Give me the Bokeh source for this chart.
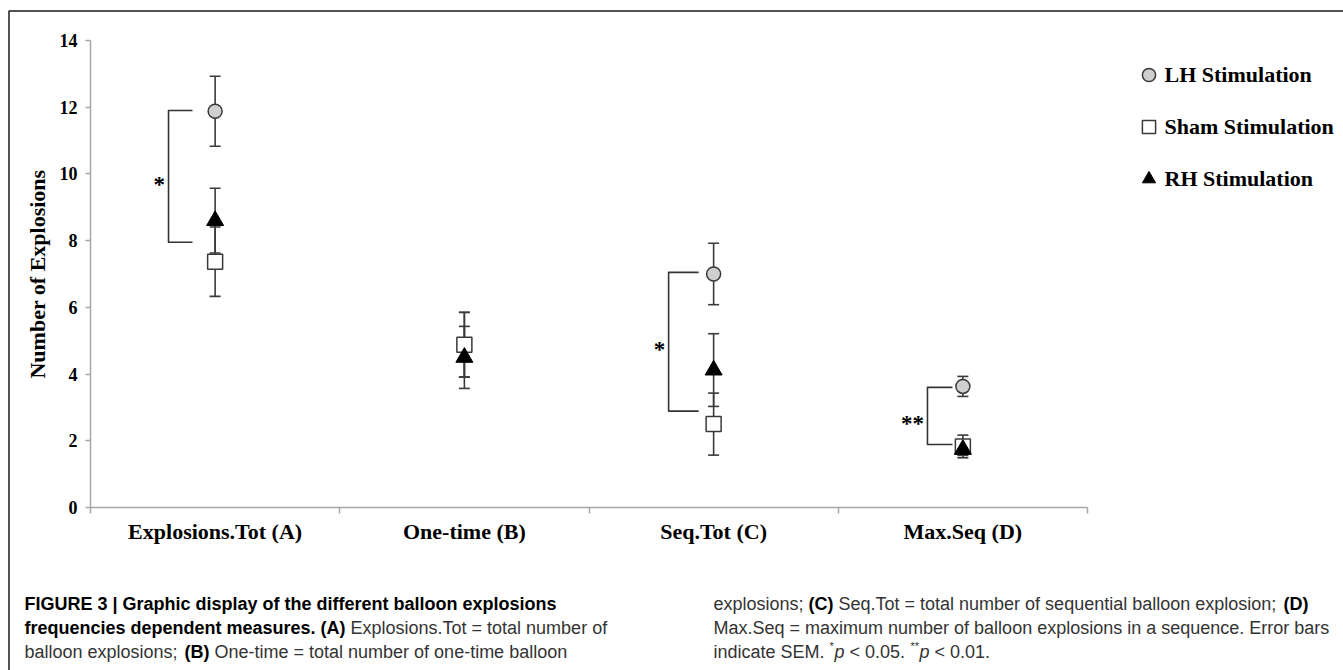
import math
from bokeh.plotting import figure
from bokeh.models import Range1d, FixedTicker, Label, Legend, LegendItem, BoxAnnotation
from bokeh.core.properties import value
from bokeh.embed import file_html
from bokeh.resources import INLINE

# ---------------- data ----------------
categories = ["Explosions.Tot (A)", "One-time (B)", "Seq.Tot (C)", "Max.Seq (D)"]
lh_mean = [11.88, 4.88, 7.00, 3.63]
lh_sem = [1.05, 0.97, 0.92, 0.30]
sham_mean = [7.37, 4.88, 2.50, 1.83]
sham_sem = [1.04, 0.97, 0.93, 0.34]
rh_mean = [8.60, 4.50, 4.12, 1.74]
rh_sem = [0.97, 0.93, 1.09, 0.18]
y_ticks = [0, 2, 4, 6, 8, 10, 12, 14]
series_labels = ["LH Stimulation", "Sham Stimulation", "RH Stimulation"]

bracket_cat = [0, 2, 3]
bracket_top = [11.90, 7.05, 3.60]
bracket_bottom = [7.95, 2.89, 1.89]
bracket_label = ["*", "*", "**"]

# ---------------- layout (page pixels) ----------------
W, H = 1343, 670
F_LEFT, F_RIGHT, F_TOP, F_BOTTOM = 90, 1087, 40, 507   # plot area of the chart
PX = (F_RIGHT - F_LEFT) / 4.0
PY = (F_BOTTOM - F_TOP) / 14.0


def X(px):
    return (px - F_LEFT) / PX - 0.5


def Y(py):
    return (F_BOTTOM - py) / PY


SERIF = "Liberation Serif"
SANS = "Liberation Sans"
EC = "#3a3a3a"
AXC = "#a6a6a6"

p = figure(width=W, height=H, output_backend="svg", toolbar_location=None,
           x_range=Range1d(X(0), X(W)), y_range=Range1d(Y(H), Y(0)),
           min_border=0)
p.title.visible = False
p.outline_line_color = None
p.xgrid.visible = False
p.ygrid.visible = False
p.background_fill_color = "white"
p.border_fill_color = "white"

# y axis (real bokeh axis, fixed at the left edge of the data area)
ya = p.yaxis[0]
ya.fixed_location = -0.5
ya.bounds = (0, 14)
ya.ticker = FixedTicker(ticks=y_ticks)
ya.axis_line_color = AXC
ya.axis_line_width = 1.5
ya.major_tick_line_color = AXC
ya.major_tick_line_width = 1.5
ya.major_tick_out = 5
ya.major_tick_in = 0
ya.minor_tick_line_color = None
ya.major_label_text_font = SERIF
ya.major_label_text_font_style = "bold"
ya.major_label_text_font_size = "18px"
ya.major_label_text_color = "black"
ya.major_label_standoff = 8

# x axis
xa = p.xaxis[0]
cat_pos = list(range(len(categories)))
xa.fixed_location = 0
xa.bounds = (-0.5, len(categories) - 0.5)
xa.ticker = FixedTicker(ticks=cat_pos, minor_ticks=[i - 0.5 for i in range(len(categories) + 1)])
xa.major_label_overrides = {i: c for i, c in zip(cat_pos, categories)}
xa.axis_line_color = AXC
xa.axis_line_width = 1.5
xa.major_tick_line_color = None
xa.major_tick_out = 0
xa.major_tick_in = 0
xa.minor_tick_line_color = AXC
xa.minor_tick_line_width = 1.5
xa.minor_tick_out = 6
xa.minor_tick_in = 0
xa.major_label_text_font = SERIF
xa.major_label_text_font_style = "bold"
xa.major_label_text_font_size = "22px"
xa.major_label_text_color = "black"
xa.major_label_standoff = 5

# y axis title
p.add_layout(Label(x=X(37), y=7.0, text="Number of Explosions", angle=math.pi / 2,
                   text_font=SERIF, text_font_style="bold", text_font_size="22px",
                   text_color="black", text_align="center", text_baseline="middle"))

# error bars
for mean, sem in ((lh_mean, lh_sem), (sham_mean, sham_sem), (rh_mean, rh_sem)):
    lo = [m - s for m, s in zip(mean, sem)]
    hi = [m + s for m, s in zip(mean, sem)]
    p.segment(x0=cat_pos, y0=lo, x1=cat_pos, y1=hi, line_color=EC, line_width=1.6)
    p.scatter(x=cat_pos + cat_pos, y=lo + hi, marker="dash", size=11,
              line_color=EC, line_width=1.6)

lh_r = p.scatter(x=cat_pos, y=lh_mean, marker="circle", size=14,
                 fill_color="#cfcfcf", line_color=EC, line_width=1.5)
sham_r = p.scatter(x=cat_pos, y=sham_mean, marker="square", size=15,
                   fill_color="white", line_color=EC, line_width=1.5)
rh_r = p.scatter(x=cat_pos, y=rh_mean, marker="triangle", size=17,
                 fill_color="black", line_color="black", line_width=1)

# significance brackets
vert_dx = [-46.6, -45.0, -35.4]
arm_dx = [-22.6, -15.0, -10.4]
bx, by, sx, sy = [], [], [], []
for c, t, b, vd, ad in zip(bracket_cat, bracket_top, bracket_bottom, vert_dx, arm_dx):
    xv = c + vd / PX
    xe = c + ad / PX
    bx.append([xe, xv, xv, xe])
    by.append([t, t, b, b])
    sx.append(xv - 3.5 / PX)
    sy.append((t + b) / 2.0)
p.multi_line(xs=bx, ys=by, line_color="#333333", line_width=1.6, line_join="round")
p.text(x=sx, y=sy, text=bracket_label, text_align="right", text_baseline="alphabetic",
       y_offset=8, text_font=value(SERIF), text_font_style="bold",
       text_font_size="23px", text_color="black")

# legend
legend = Legend(items=[LegendItem(label=series_labels[0], renderers=[lh_r]),
                       LegendItem(label=series_labels[1], renderers=[sham_r]),
                       LegendItem(label=series_labels[2], renderers=[rh_r])],
                location=(1131.5, H - 195.0),
                glyph_width=33, glyph_height=33, label_standoff=0, spacing=19,
                padding=0, margin=0, border_line_color=None, background_fill_alpha=0,
                label_text_font=SERIF, label_text_font_style="bold",
                label_text_font_size="22px", label_text_color="black",
                label_text_baseline="middle")
p.add_layout(legend)

# page frame lines (top and left)
p.add_layout(BoxAnnotation(left=X(8.5), right=X(1600), top=Y(10.5), bottom=Y(900),
                           fill_alpha=0, line_color="#1a1a1a", line_alpha=1.0,
                           line_width=1.5))

# caption
LINE_Y = [603, 627, 651]
BK, RG = "black", "#333333"
runs = [
    (24, 0, "FIGURE 3 | Graphic display of the different balloon explosions", "bold", BK, "18px"),
    (24, 1, "frequencies dependent measures. (A)", "bold", BK, "18px"),
    (350, 1, "Explosions.Tot = total number of", "normal", RG, "18px"),
    (24, 2, "balloon explosions;", "normal", RG, "18px"),
    (184, 2, "(B)", "bold", BK, "18px"),
    (214, 2, "One-time = total number of one-time balloon", "normal", RG, "18px"),
    (713, 0, "explosions;", "normal", RG, "18px"),
    (808, 0, "(C)", "bold", BK, "18px"),
    (838, 0, "Seq.Tot = total number of sequential balloon explosion;", "normal", RG, "18px"),
    (1283, 0, "(D)", "bold", BK, "18px"),
    (713, 1, "Max.Seq = maximum number of balloon explosions in a sequence. Error bars", "normal", RG, "18px"),
    (713, 2, "indicate SEM.", "normal", RG, "18px"),
    (829, 2, "*", "normal", RG, "11px"),
    (834, 2, "p", "italic", RG, "18px"),
    (849, 2, "< 0.05.", "normal", RG, "18px"),
    (910, 2, "**", "normal", RG, "11px"),
    (919, 2, "p", "italic", RG, "18px"),
    (934, 2, "< 0.01.", "normal", RG, "18px"),
]
for px, li, txt, style, col, size in runs:
    yy = LINE_Y[li] - (6 if txt.startswith("*") else 0)
    p.add_layout(Label(x=X(px), y=Y(yy), text=txt, text_font=SANS, text_font_style=style,
                       text_font_size=size, text_color=col, text_align="left",
                       text_baseline="middle"))

open("out.html", "w").write(file_html(p, INLINE))
